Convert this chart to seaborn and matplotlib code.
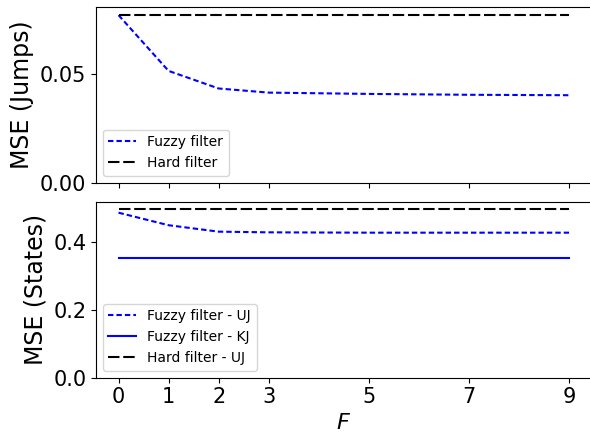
import matplotlib
matplotlib.use("Agg")
import matplotlib.pyplot as plt
import seaborn as sns
import pandas as pd

F = [0, 1, 2, 3, 5, 7, 9]
jumps_fuzzy = [0.0772, 0.0515, 0.0434, 0.0415, 0.0409, 0.0405, 0.0403]
jumps_hard = [0.0772, 0.0772, 0.0772, 0.0772, 0.0772, 0.0772, 0.0772]
states_fuzzy_uj = [0.487, 0.450, 0.431, 0.429, 0.428, 0.428, 0.428]
states_fuzzy_kj = [0.353, 0.353, 0.353, 0.353, 0.353, 0.353, 0.353]
states_hard_uj = [0.497, 0.497, 0.497, 0.497, 0.497, 0.497, 0.497]
xticks = [0, 1, 2, 3, 5, 7, 9]

df = pd.DataFrame({"F": F, "jf": jumps_fuzzy, "jh": jumps_hard,
                   "su": states_fuzzy_uj, "sk": states_fuzzy_kj, "sh": states_hard_uj})

fig = plt.figure(figsize=(5.9, 4.37), dpi=100)
ax1 = fig.add_axes([0.1627, 0.5819, 0.840, 0.4027])
ax2 = fig.add_axes([0.1627, 0.1357, 0.840, 0.4027], sharex=ax1)

long_dash = (0, (5.5, 1.8))
short_dash = (0, (2.6, 1.45))

sns.lineplot(data=df, x="F", y="jf", ax=ax1, color="blue", linestyle=short_dash, lw=1.5, label="Fuzzy filter")
sns.lineplot(data=df, x="F", y="jh", ax=ax1, color="black", linestyle=long_dash, lw=1.5, label="Hard filter")
ax1.set_ylim(0, max(jumps_hard) * 1.05)
ax1.set_yticks([0.0, 0.05])
ax1.set_yticklabels(["0.00", "0.05"])
ax1.set_ylabel("MSE (Jumps)", fontsize=17)
ax1.set_xlabel("")
ax1.tick_params(axis="x", labelbottom=False)
ax1.tick_params(axis="y", labelsize=15)
ax1.legend(loc="lower left", fontsize=10)

sns.lineplot(data=df, x="F", y="su", ax=ax2, color="blue", linestyle=short_dash, lw=1.5, label="Fuzzy filter - UJ")
sns.lineplot(data=df, x="F", y="sk", ax=ax2, color="blue", linestyle="-", lw=1.5, label="Fuzzy filter - KJ")
sns.lineplot(data=df, x="F", y="sh", ax=ax2, color="black", linestyle=long_dash, lw=1.5, label="Hard filter - UJ")
ax2.set_ylim(0, max(states_hard_uj) * 1.045)
ax2.set_yticks([0.0, 0.2, 0.4])
ax2.set_ylabel("MSE (States)", fontsize=17)
ax2.set_xlabel("$F$", fontsize=16)
ax2.set_xticks(xticks)
ax2.tick_params(axis="both", labelsize=15)
ax2.legend(loc="lower left", fontsize=10)

fig.savefig("out.png", dpi=100)
